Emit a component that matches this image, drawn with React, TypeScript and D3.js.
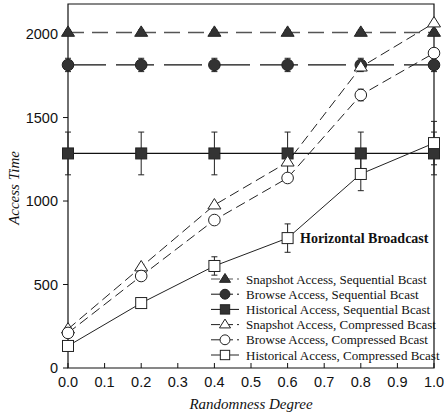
import React from 'react';
import * as d3 from 'd3';

const xValues = [0.0, 0.2, 0.4, 0.6, 0.8, 1.0];
const xTicks = [0, 0.1, 0.2, 0.3, 0.4, 0.5, 0.6, 0.7, 0.8, 0.9, 1.0];
const yTicks = [0, 500, 1000, 1500, 2000];

const snapshotSeq = [2010, 2010, 2010, 2010, 2010, 2010];
const browseSeq = [1815, 1815, 1815, 1815, 1815, 1815];
const historicalSeq = [1285, 1285, 1285, 1285, 1285, 1285];
const snapshotComp = [233, 605, 976, 1233, 1802, 2066];
const browseComp = [210, 551, 886, 1138, 1635, 1886];
const historicalComp = [132, 389, 611, 778, 1162, 1347];

const snapshotSeqErr = [15, 15, 15, 15, 15, 15];
const browseSeqErr = [40, 40, 40, 40, 40, 40];
const historicalSeqErr = [128, 128, 128, 128, 128, 128];
const snapshotCompErr = [0, 0, 0, 0, 0, 0];
const browseCompErr = [0, 0, 0, 0, 35, 0];
const historicalCompErr = [0, 0, 55, 85, 100, 130];

const seriesNames = [
  'Snapshot Access, Sequential Bcast',
  'Browse Access, Sequential Bcast',
  'Historical Access, Sequential Bcast',
  'Snapshot Access, Compressed Bcast',
  'Browse Access, Compressed Bcast',
  'Historical Access, Compressed Bcast',
];

const W = 444;
const H = 416;
const left = 68;
const right = 434;
const top = 4;
const bottom = 368;

type Series = {
  name: string;
  values: number[];
  err: number[];
  shape: 'triangle' | 'circle' | 'square';
  filled: boolean;
  stroke: string;
  width: number;
  dash?: string;
};

const series: Series[] = [
  { name: seriesNames[0], values: snapshotSeq, err: snapshotSeqErr, shape: 'triangle', filled: true, stroke: '#555', width: 1.5, dash: '16,8' },
  { name: seriesNames[1], values: browseSeq, err: browseSeqErr, shape: 'circle', filled: true, stroke: '#111', width: 1.2, dash: '38,10' },
  { name: seriesNames[2], values: historicalSeq, err: historicalSeqErr, shape: 'square', filled: true, stroke: '#111', width: 1.2 },
  { name: seriesNames[3], values: snapshotComp, err: snapshotCompErr, shape: 'triangle', filled: false, stroke: '#222', width: 1, dash: '10,5' },
  { name: seriesNames[4], values: browseComp, err: browseCompErr, shape: 'circle', filled: false, stroke: '#222', width: 1, dash: '10,5' },
  { name: seriesNames[5], values: historicalComp, err: historicalCompErr, shape: 'square', filled: false, stroke: '#222', width: 1 },
];

function Marker({ shape, filled, x, y, k = 1 }: { shape: string; filled: boolean; x: number; y: number; k?: number }) {
  const fill = filled ? '#333' : '#fff';
  const stroke = '#222';
  if (shape === 'triangle') {
    const s = 6.5 * k;
    return (
      <path
        d={`M${x},${y - s}L${x + s},${y + s * 0.6}L${x - s},${y + s * 0.6}Z`}
        fill={fill}
        stroke={stroke}
        strokeWidth={1}
      />
    );
  }
  if (shape === 'circle') {
    return <circle cx={x} cy={y} r={5.8 * k} fill={fill} stroke={stroke} strokeWidth={1} />;
  }
  const h = 5.5 * k;
  return <rect x={x - h} y={y - h} width={2 * h} height={2 * h} fill={fill} stroke={stroke} strokeWidth={1} />;
}

export default function App() {
  const x = d3.scaleLinear().domain([0, 1]).range([left, right]);
  const y = d3.scaleLinear().domain([0, 2180]).range([bottom, top]);

  const line = d3
    .line<number>()
    .x((_, i) => x(xValues[i]))
    .y((d) => y(d));

  const legendX = 211;
  const legendY = 279;
  const legendStep = 15.2;

  return (
    <svg
      width={W}
      height={H}
      style={{ position: 'absolute', left: 0, top: 0, background: '#fff' }}
    >
      <rect x={0} y={0} width={W} height={H} fill="#fff" />

      {/* frame */}
      <path
        d={`M${left},${top}H${right}V${bottom}H${left}Z`}
        fill="none"
        stroke="#111"
        strokeWidth={1.2}
      />

      {/* y ticks */}
      {yTicks.map((t) => (
        <g key={'y' + t}>
          <line x1={left - 5} x2={left} y1={y(t)} y2={y(t)} stroke="#111" />
          <text
            x={left - 10}
            y={y(t)}
            dy="0.36em"
            textAnchor="end"
            fontFamily="Liberation Sans, Arial, sans-serif"
            fontSize={14.5}
            fill="#111"
          >
            {t}
          </text>
        </g>
      ))}

      {/* x ticks */}
      {xTicks.map((t) => (
        <g key={'x' + t}>
          <line x1={x(t)} x2={x(t)} y1={bottom} y2={bottom - 5} stroke="#111" />
          <text
            x={x(t)}
            y={bottom + 19}
            textAnchor="middle"
            fontFamily="Liberation Sans, Arial, sans-serif"
            fontSize={14.5}
            fill="#111"
          >
            {t.toFixed(1)}
          </text>
        </g>
      ))}

      {/* lines */}
      {series.map((s) => (
        <path
          key={'l' + s.name}
          d={line(s.values) || ''}
          fill="none"
          stroke={s.stroke}
          strokeWidth={s.width}
          strokeDasharray={s.dash}
        />
      ))}

      {/* error bars */}
      {series.map((s) =>
        s.values.map((v, i) =>
          s.err[i] > 0 ? (
            <g key={'e' + s.name + i} stroke="#222" strokeWidth={1}>
              <line x1={x(xValues[i])} x2={x(xValues[i])} y1={y(v - s.err[i])} y2={y(v + s.err[i])} />
              <line x1={x(xValues[i]) - 3} x2={x(xValues[i]) + 3} y1={y(v - s.err[i])} y2={y(v - s.err[i])} />
              <line x1={x(xValues[i]) - 3} x2={x(xValues[i]) + 3} y1={y(v + s.err[i])} y2={y(v + s.err[i])} />
            </g>
          ) : null
        )
      )}

      {/* markers */}
      {series.map((s) =>
        s.values.map((v, i) => (
          <Marker key={'m' + s.name + i} shape={s.shape} filled={s.filled} x={x(xValues[i])} y={y(v)} />
        ))
      )}

      {/* annotation */}
      <text
        x={300}
        y={243}
        fontFamily="Liberation Serif, Times New Roman, serif"
        fontWeight="bold"
        fontSize={14}
        fill="#111"
      >
        Horizontal Broadcast
      </text>

      {/* legend */}
      {series.map((s, i) => {
        const ly = legendY + i * legendStep;
        return (
          <g key={'lg' + s.name}>
            <line
              x1={legendX}
              x2={legendX + 28}
              y1={ly}
              y2={ly}
              stroke={s.stroke}
              strokeWidth={1}
              strokeDasharray={s.dash ? '9,4' : undefined}
            />
            <Marker shape={s.shape} filled={s.filled} x={legendX + 14} y={ly} k={0.85} />
            <text
              x={legendX + 35}
              y={ly}
              dy="0.35em"
              fontFamily="Liberation Serif, Times New Roman, serif"
              fontSize={13}
              fill="#111"
            >
              {s.name}
            </text>
          </g>
        );
      })}

      {/* axis titles */}
      <text
        transform={`translate(19,${(top + bottom) / 2 + 2}) rotate(-90)`}
        textAnchor="middle"
        fontFamily="Liberation Serif, Times New Roman, serif"
        fontStyle="italic"
        fontSize={15}
        fill="#111"
      >
        Access Time
      </text>
      <text
        x={(left + right) / 2}
        y={409}
        textAnchor="middle"
        fontFamily="Liberation Serif, Times New Roman, serif"
        fontStyle="italic"
        fontSize={15}
        fill="#111"
      >
        Randomness Degree
      </text>
    </svg>
  );
}
